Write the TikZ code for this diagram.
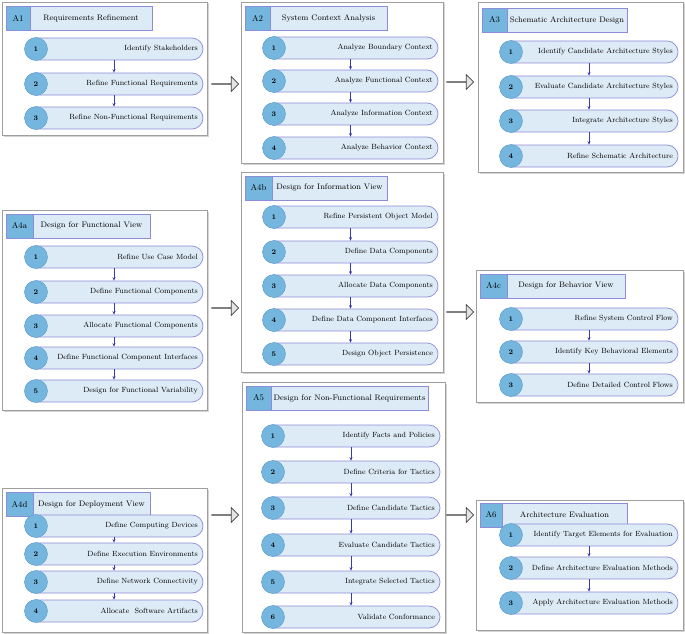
\documentclass[tikz,border=0pt]{standalone}
\usetikzlibrary{shapes.arrows,shadows,arrows.meta}
\definecolor{pillfill}{HTML}{DDEBF6}
\definecolor{pilldraw}{HTML}{8C8CD8}
\definecolor{numfill}{HTML}{74B6DE}
\definecolor{numdraw}{HTML}{5A9CC8}
\definecolor{arr}{HTML}{3A3AB0}
\tikzset{
  panel/.style={draw=gray!75, line width=0.8pt, fill=white, drop shadow={opacity=0.35, shadow xshift=1.5pt, shadow yshift=-1.5pt}, inner sep=0},
  pill/.style={draw=pilldraw, fill=pillfill, line width=0.7pt, rounded corners=11pt, minimum height=22pt, inner sep=0},
  num/.style={circle, fill=numfill, draw=numdraw, line width=0.4pt, minimum size=23pt, inner sep=0, font=\fontsize{7}{8}\selectfont\bfseries},
  ptext/.style={font=\fontsize{7.5}{9}\selectfont, anchor=east, inner sep=0},
  lbl/.style={draw=pilldraw, fill=numfill, line width=0.7pt, inner sep=0, minimum height=24pt, font=\fontsize{8.5}{10}\selectfont},
  ttl/.style={draw=pilldraw, fill=pillfill, line width=0.7pt, inner sep=0, minimum height=24pt, font=\fontsize{8}{10}\selectfont},
  flow/.style={draw=arr, line width=0.5pt, -{Stealth[length=3.5pt,width=3pt]}},
  bigarrow/.style={single arrow, draw=black!75, fill=gray!20, line width=0.7pt, minimum height=27pt, minimum width=13pt, single arrow head extend=7pt, single arrow head indent=0pt, inner sep=0},
}
% name, x1, x2, y, num, text
\newcommand\pill[6]{%
  \node[pill, minimum width={(#3-#2)*1pt}] (#1) at ({(#2+#3)/2},#4) {};
  \node[num] (#1n) at ({#2+11},#4) {#5};
  \node[ptext] (#1t) at ({#3-5},#4) {#6};
}
% name, x1, y1, x2, y2
\newcommand\panelbox[5]{%
  \node[panel, minimum width={(#4-#2)*1pt}, minimum height={(#5-#3)*1pt}] (#1) at ({(#2+#4)/2},{(#3+#5)/2}) {};
}
% name, x1, y1, xsplit, x2, label, title   (y1 top; height 24)
\newcommand\titlebar[7]{%
  \node[lbl, minimum width={(#4-#2)*1pt}] (#1l) at ({(#2+#4)/2},{#3+12}) {#6};
  \node[ttl, minimum width={(#5-#4)*1pt}] (#1t) at ({(#4+#5)/2},{#3+12}) {#7};
}
\begin{document}
\begin{tikzpicture}[x=1pt,y=-1pt]
\useasboundingbox (0,0) rectangle (685,634);
% ---------- A1
\panelbox{P1}{2}{2}{207}{135}
\titlebar{T1}{6}{6}{30}{152}{A1}{Requirements Refinement}
\pill{a11}{25}{203}{49}{1}{Identify Stakeholders}
\pill{a12}{25}{203}{84}{2}{Refine Functional Requirements}
\pill{a13}{25}{203}{118}{3}{Refine Non-Functional Requirements}
\draw[flow] (a11) -- (a12); \draw[flow] (a12) -- (a13);
% ---------- A2
\panelbox{P2}{241}{2}{443}{163}
\titlebar{T2}{245}{6}{270}{387}{A2}{System Context Analysis}
\pill{a21}{263}{438}{48}{1}{Analyze Boundary Context}
\pill{a22}{263}{438}{81}{2}{Analyze Functional Context}
\pill{a23}{263}{438}{114}{3}{Analyze Information Context}
\pill{a24}{263}{438}{148}{4}{Analyze Behavior Context}
\draw[flow] (a21) -- (a22); \draw[flow] (a22) -- (a23); \draw[flow] (a23) -- (a24);
% ---------- A3
\panelbox{P3}{478}{2}{683}{172}
\titlebar{T3}{482}{8}{507}{627}{A3}{Schematic Architecture Design}
\pill{a31}{500}{678}{52}{1}{Identify Candidate Architecture Styles}
\pill{a32}{500}{678}{87}{2}{Evaluate Candidate Architecture Styles}
\pill{a33}{500}{678}{121}{3}{Integrate Architecture Styles}
\pill{a34}{500}{678}{156}{4}{Refine Schematic Architecture}
\draw[flow] (a31) -- (a32); \draw[flow] (a32) -- (a33); \draw[flow] (a33) -- (a34);
% ---------- A4a
\panelbox{P4a}{2}{210}{207}{410}
\titlebar{T4a}{6}{214}{33}{150}{A4a}{Design for Functional View}
\pill{a41}{25}{203}{257}{1}{Refine Use Case Model}
\pill{a42}{25}{203}{292}{2}{Define Functional Components}
\pill{a43}{25}{203}{326}{3}{Allocate Functional Components}
\pill{a44}{25}{203}{358}{4}{Define Functional Component Interfaces}
\pill{a45}{25}{203}{391}{5}{Design for Functional Variability}
\draw[flow] (a41) -- (a42); \draw[flow] (a42) -- (a43); \draw[flow] (a43) -- (a44); \draw[flow] (a44) -- (a45);
% ---------- A4b
\panelbox{P4b}{241}{172}{443}{372}
\titlebar{T4b}{245}{176}{272}{387}{A4b}{Design for Information View}
\pill{b41}{263}{438}{217}{1}{Refine Persistent Object Model}
\pill{b42}{263}{438}{252}{2}{Define Data Components}
\pill{b43}{263}{438}{286}{3}{Allocate Data Components}
\pill{b44}{263}{438}{320}{4}{Define Data Component Interfaces}
\pill{b45}{263}{438}{354}{5}{Design Object Persistence}
\draw[flow] (b41) -- (b42); \draw[flow] (b42) -- (b43); \draw[flow] (b43) -- (b44); \draw[flow] (b44) -- (b45);
% ---------- A4c
\panelbox{P4c}{476}{270}{683}{402}
\titlebar{T4c}{480}{274}{507}{625}{A4c}{Design for Behavior View}
\pill{c41}{500}{678}{319}{1}{Refine System Control Flow}
\pill{c42}{500}{678}{352}{2}{Identify Key Behavioral Elements}
\pill{c43}{500}{678}{385}{3}{Define Detailed Control Flows}
\draw[flow] (c41) -- (c42); \draw[flow] (c42) -- (c43);
% ---------- A4d
\panelbox{P4d}{2}{488}{207}{632}
\titlebar{T4d}{6}{492}{33}{150}{A4d}{Design for Deployment View}
\pill{d41}{25}{203}{526}{1}{Define Computing Devices}
\pill{d42}{25}{203}{554}{2}{Define Execution Environments}
\pill{d43}{25}{203}{582}{3}{Define Network Connectivity}
\pill{d44}{25}{203}{611}{4}{Allocate\ \ Software Artifacts}
\draw[flow] (d41) -- (d42); \draw[flow] (d42) -- (d43); \draw[flow] (d43) -- (d44);
% ---------- A5
\panelbox{P5}{242}{382}{445}{632}
\titlebar{T5}{246}{386}{271}{428}{A5}{Design for Non-Functional Requirements}
\pill{a51}{262}{440}{436}{1}{Identify Facts and Policies}
\pill{a52}{262}{440}{472}{2}{Define Criteria for Tactics}
\pill{a53}{262}{440}{508}{3}{Define Candidate Tactics}
\pill{a54}{262}{440}{545}{4}{Evaluate Candidate Tactics}
\pill{a55}{262}{440}{582}{5}{Integrate Selected Tactics}
\pill{a56}{262}{440}{617}{6}{Validate Conformance}
\draw[flow] (a51) -- (a52); \draw[flow] (a52) -- (a53); \draw[flow] (a53) -- (a54); \draw[flow] (a54) -- (a55); \draw[flow] (a55) -- (a56);
% ---------- A6
\panelbox{P6}{476}{500}{683}{630}
\titlebar{T6}{480}{503}{502}{627}{A6}{Architecture Evaluation}
\pill{a61}{500}{678}{535}{1}{Identify Target Elements for Evaluation}
\pill{a62}{500}{678}{568}{2}{Define Architecture Evaluation Methods}
\pill{a63}{500}{678}{603}{3}{Apply Architecture Evaluation Methods}
\draw[flow] (a61) -- (a62); \draw[flow] (a62) -- (a63);
% ---------- big arrows
\node[bigarrow] (B1) at (225,84) {};
\node[bigarrow] (B2) at (460,82) {};
\node[bigarrow] (B3) at (225,308) {};
\node[bigarrow] (B4) at (460,312) {};
\node[bigarrow] (B5) at (225,515) {};
\node[bigarrow] (B6) at (460,515) {};
\end{tikzpicture}
\end{document}
